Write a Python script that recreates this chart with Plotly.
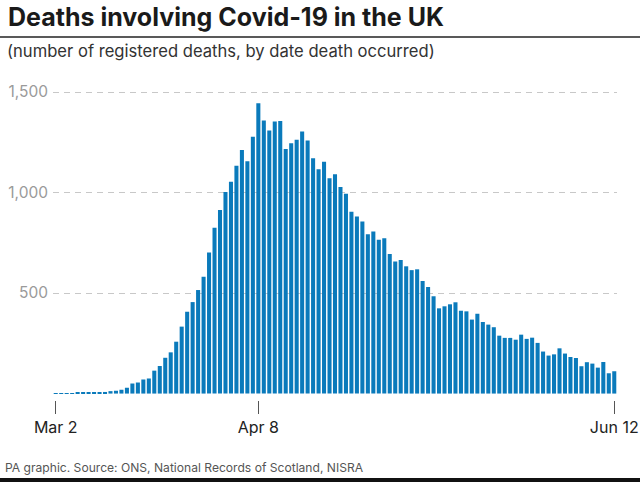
import pandas as pd
import plotly.graph_objects as go

# daily registered deaths, Mar 2 -> Jun 12
dates = pd.date_range("2020-03-02", "2020-06-12", freq="D").strftime("%Y-%m-%d").tolist()
deaths = [
    1, 2, 1, 2, 3, 3, 4, 4, 6, 8,
    12, 14, 19, 29, 50, 55, 70, 75, 114, 137,
    178, 205, 258, 333, 407, 455, 515, 581, 702, 825,
    913, 1002, 1054, 1133, 1212, 1156, 1278, 1444, 1358, 1308,
    1353, 1356, 1217, 1245, 1262, 1303, 1259, 1171, 1116, 1153,
    1071, 1091, 1027, 994, 904, 881, 856, 792, 806, 765,
    772, 694, 657, 664, 633, 614, 618, 560, 530, 484,
    424, 434, 444, 454, 412, 409, 368, 397, 356, 343,
    330, 288, 277, 277, 268, 293, 272, 278, 252, 209,
    189, 195, 225, 199, 182, 177, 136, 156, 149, 129,
    157, 101, 111,
]

x_tickvals = ["2020-03-02", "2020-04-08", "2020-06-12"]
x_ticktext = ["Mar 2", "Apr 8", "Jun 12"]
y_tickvals = [500, 1000, 1500]
y_ticktext = ["500", "1,000", "1,500"]

W, H = 640, 482
L, R, T, B = 53, 23, 91, 82
PW, PH = W - L - R, H - T - B


def fx(px):
    return (px - L) / PW


def fy(py):
    return (H - B - py) / PH


fig = go.Figure()
fig.add_trace(go.Bar(x=dates, y=deaths, marker=dict(color="#0a7abb", line=dict(width=0))))

fig.update_layout(
    width=W, height=H,
    margin=dict(l=L, r=R, t=T, b=B, autoexpand=False),
    paper_bgcolor="white", plot_bgcolor="white",
    showlegend=False,
    bargap=0.26,
    font=dict(family="Inter", color="#333"),
    xaxis=dict(
        type="date", automargin=False,
        range=["2020-03-01 12:00", "2020-06-12 12:00"],
        tickvals=x_tickvals, ticktext=x_ticktext,
        ticks="outside", ticklen=13, tickcolor="#555", tickwidth=1,
        showgrid=False, showline=False, zeroline=False,
        tickfont=dict(size=16, color="#222"),
    ),
    yaxis=dict(
        automargin=False,
        range=[-32, 1505],
        tickvals=y_tickvals, ticktext=y_ticktext,
        showgrid=True, gridcolor="#c8c8c8", griddash="6px,5px", gridwidth=1.3,
        zeroline=False, showline=False,
        tickfont=dict(size=15.5, color="#9a9a9a"),
        ticklabelstandoff=4,
    ),
)

# title, subtitle, footer
fig.add_annotation(text="<b>Deaths involving Covid-19 in the UK</b>", xref="paper", yref="paper",
                   x=fx(6), y=fy(17), xanchor="left", yanchor="middle", showarrow=False,
                   font=dict(size=25, color="#1a1a1a", family="Inter"))
fig.add_annotation(text="(number of registered deaths, by date death occurred)", xref="paper", yref="paper",
                   x=fx(5), y=fy(51), xanchor="left", yanchor="middle", showarrow=False,
                   font=dict(size=16.6, color="#333"))
fig.add_annotation(text="PA graphic. Source: ONS, National Records of Scotland, NISRA", xref="paper", yref="paper",
                   x=fx(3), y=fy(467), xanchor="left", yanchor="middle", showarrow=False,
                   font=dict(size=12.1, color="#555"))

fig.add_shape(type="line", xref="paper", yref="paper", x0=fx(0), x1=fx(W), y0=fy(37), y1=fy(37),
              line=dict(color="#222", width=1.5))
fig.add_shape(type="rect", xref="paper", yref="paper", x0=fx(0), x1=fx(W), y0=fy(478), y1=fy(H),
              line=dict(width=0), fillcolor="#111")

# page body has a default 8px margin; drop it so the figure fills the window
fig.write_html("out.html", config={"displayModeBar": False},
               post_script="document.body.style.margin='0';")
